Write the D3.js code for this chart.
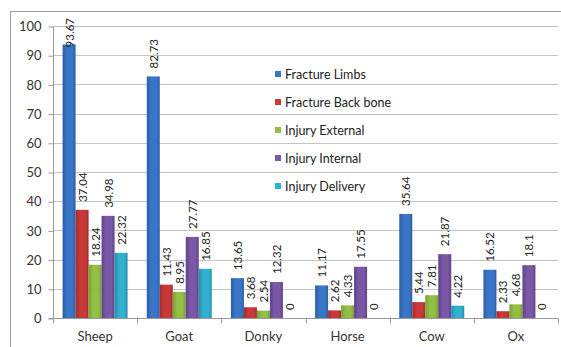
<!DOCTYPE html>
<html><head><meta charset="utf-8">
<script src="https://cdn.jsdelivr.net/npm/d3@7"></script>
<style>html,body{margin:0;padding:0;background:#fff;}svg{display:block;}</style>
</head><body>
<svg id="chart" width="561" height="347"></svg>
<script>
const categories = ["Sheep","Goat","Donky","Horse","Cow","Ox"];
const seriesNames = ["Fracture Limbs","Fracture Back bone","Injury External","Injury Internal","Injury Delivery"];
const fractureLimbs   = [93.67, 82.73, 13.65, 11.17, 35.64, 16.52];
const fractureBack    = [37.04, 11.43, 3.68, 2.62, 5.44, 2.33];
const injuryExternal  = [18.24, 8.95, 2.54, 4.33, 7.81, 4.68];
const injuryInternal  = [34.98, 27.77, 12.32, 17.55, 21.87, 18.1];
const injuryDelivery  = [22.32, 16.85, 0, 0, 4.22, 0];
const yTicks = [0,10,20,30,40,50,60,70,80,90,100];
const colors = ["#3a76c6","#c83a3a","#93bf45","#7b58a6","#33b0cf"];
const dark   = ["#2b5ea6","#a52b2b","#76a032","#5f4189","#2490ad"];

const seriesValues = [fractureLimbs, fractureBack, injuryExternal, injuryInternal, injuryDelivery];

const svg = d3.select("#chart");
const font = "Lato, 'Liberation Sans', sans-serif";

// border
svg.append("rect").attr("x",10.5).attr("y",11.5).attr("width",600).attr("height",400)
  .attr("fill","none").attr("stroke","#a0a0a0").attr("stroke-width",1);

const pLeft = 53, pRight = 558, pTop = 26, pBottom = 318;
const y = d3.scaleLinear().domain([0,100]).range([pBottom, pTop]);
const x0 = d3.scaleBand().domain(categories).range([pLeft, pRight]).paddingInner(0.228).paddingOuter(0.114);
const x1 = d3.scaleBand().domain(d3.range(seriesNames.length)).range([0, x0.bandwidth()]);

// gradients
const defs = svg.append("defs");
colors.forEach((c,i)=>{
  const g = defs.append("linearGradient").attr("id","g"+i).attr("x1","0").attr("x2","1").attr("y1","0").attr("y2","0");
  g.append("stop").attr("offset","0").attr("stop-color",dark[i]);
  g.append("stop").attr("offset","0.35").attr("stop-color",c);
  g.append("stop").attr("offset","0.75").attr("stop-color",c);
  g.append("stop").attr("offset","1").attr("stop-color",dark[i]);
});

// gridlines
svg.append("g").selectAll("line").data(yTicks.filter(d=>d>0)).join("line")
  .attr("x1",pLeft).attr("x2",pRight)
  .attr("y1",d=>Math.round(y(d))+0.5).attr("y2",d=>Math.round(y(d))+0.5)
  .attr("stroke","#c4c4c4").attr("stroke-width",1.2);

// y axis
const yAxis = d3.axisLeft(y).tickValues(yTicks).tickSize(5).tickPadding(7).tickFormat(d3.format("d"));
const ya = svg.append("g").attr("transform",`translate(${pLeft+0.5},0.5)`).call(yAxis);
ya.select(".domain").attr("stroke","#999").attr("d",`M-5,${pBottom}H0V${pTop}`);
ya.selectAll(".tick line").attr("stroke","#999");
ya.selectAll(".tick text").attr("font-family",font).attr("font-size",13).attr("fill","#333");

// bars
const groups = svg.append("g").selectAll("g").data(categories).join("g")
  .attr("transform",d=>`translate(${x0(d)},0)`);
groups.selectAll("rect").data((d,ci)=>seriesValues.map((s,si)=>({si, v:s[ci]}))).join("rect")
  .attr("x",d=>x1(d.si)).attr("width",x1.bandwidth())
  .attr("y",d=>y(d.v)).attr("height",d=>pBottom - y(d.v))
  .attr("fill",d=>`url(#g${d.si})`);
groups.selectAll("text").data((d,ci)=>seriesValues.map((s,si)=>({si, v:s[ci]}))).join("text")
  .attr("dominant-baseline","central")
  .attr("font-family",font).attr("font-size",11.5).attr("fill","#222")
  .text(d=>String(d.v))
  .each(function(d){
    const len = this.getComputedTextLength();
    let yy = y(d.v) - 8;
    if (yy - len < 18) yy = 18 + len;
    d3.select(this).attr("transform",`translate(${x1(d.si)+x1.bandwidth()/2},${yy}) rotate(-90)`);
  });

// x axis
const xa = svg.append("g").attr("transform",`translate(0,${pBottom+0.5})`);
xa.append("line").attr("x1",pLeft).attr("x2",pRight).attr("stroke","#999");
const boundaries = categories.map(c=>x0(c)+x0.bandwidth()+x0.step()*x0.paddingInner()/2);
xa.selectAll(".tk").data([pLeft].concat(boundaries)).join("line").attr("class","tk")
  .attr("x1",d=>Math.round(d)+0.5).attr("x2",d=>Math.round(d)+0.5).attr("y1",0).attr("y2",5).attr("stroke","#999");
xa.selectAll("text").data(categories).join("text")
  .attr("x",d=>x0(d)+x0.bandwidth()/2).attr("y",22)
  .attr("text-anchor","middle").attr("font-family",font).attr("font-size",13).attr("fill","#333")
  .text(d=>d);

// legend
const lg = svg.append("g").selectAll("g").data(seriesNames).join("g")
  .attr("transform",(d,i)=>`translate(275,${74 + i*28})`);
lg.append("rect").attr("x",0).attr("y",-3).attr("width",6).attr("height",6).attr("fill",(d,i)=>colors[i]);
lg.append("text").attr("x",10).attr("y",0).attr("dominant-baseline","central")
  .attr("font-family",font).attr("font-size",12.5).attr("fill","#222").text(d=>d);
</script>
</body></html>
